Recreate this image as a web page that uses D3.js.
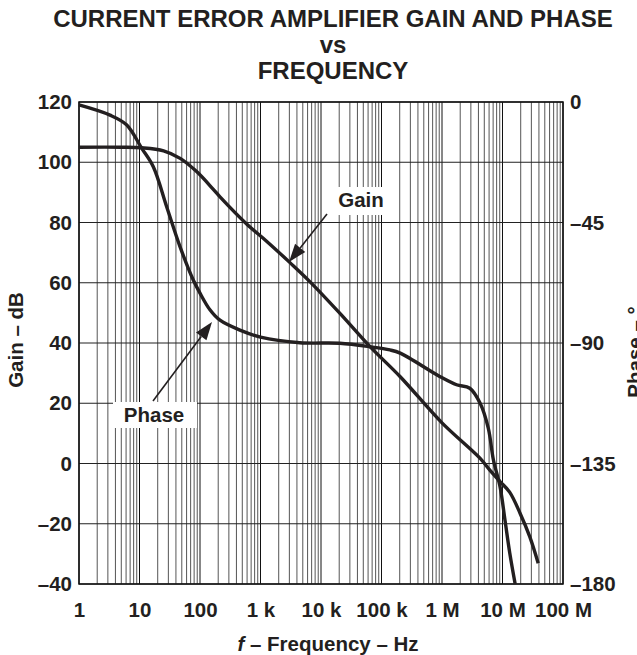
<!DOCTYPE html>
<html>
<head>
<meta charset="utf-8">
<script src="https://cdn.jsdelivr.net/npm/d3@7"></script>
<style>
  body { margin: 0; background: #fff; }
  text { font-family: "Liberation Sans", Arial, Helvetica, sans-serif; font-weight: bold; fill: #231f20; }
</style>
</head>
<body>
<div id="chart"></div>
<script>
// gain curve (Hz, dB)
var gainFreq = [1, 5, 10.9, 25, 47, 88, 166, 214, 590, 1260, 3100, 6600, 20400, 64600, 204000, 1e6, 4.27e6, 6.17e6, 9.12e6, 1.32e7, 1.95e7, 2.82e7, 3.89e7];
var gainDb   = [105, 105, 104.8, 103.8, 101.3, 96.9, 91, 88.5, 79.5, 73.8, 66.6, 60.3, 49.9, 38.8, 28.8, 13.5, 1.7, -2.2, -6.0, -9.6, -16.5, -24.3, -33.1];

// phase curve (Hz, degrees)
var phaseFreq = [1, 3.25, 6.1, 10.9, 16.9, 28.2, 46.7, 77.4, 100, 146, 214, 457, 1000, 4470, 20400, 64600, 138000, 204000, 933000, 1.74e6, 2.88e6, 4.27e6, 5.82e6, 7.08e6, 9.12e6, 1.10e7, 1.32e7, 1.62e7];
var phaseDeg  = [-1.1, -4.9, -8.5, -17.3, -24.2, -39.2, -54, -66.5, -71.4, -77.6, -81.5, -85.2, -87.8, -89.9, -90.1, -91.4, -92.6, -93.8, -102.6, -105.6, -106.9, -112.5, -121.8, -133.7, -143.7, -156.2, -168.5, -180];

// axes
var gainTicks = [-40, -20, 0, 20, 40, 60, 80, 100, 120];
var phaseTicks = [0, -45, -90, -135, -180];
var freqTicks = [1, 10, 100, 1e3, 1e4, 1e5, 1e6, 1e7, 1e8];
var freqLabels = ["1", "10", "100", "1 k", "10 k", "100 k", "1 M", "10 M", "100 M"];

var W = 637, H = 655;
var L = 79, R = 563, T = 102, B = 584;

var svg = d3.select("#chart").append("svg")
    .attr("width", W)
    .attr("height", H);

var x = d3.scaleLog().domain([1, 1e8]).range([L, R]);
var y = d3.scaleLinear().domain([-40, 120]).range([B, T]);
var yp = d3.scaleLinear().domain([-180, 0]).range([B, T]);

/* Title */
var title = ["CURRENT ERROR AMPLIFIER GAIN AND PHASE", "vs", "FREQUENCY"];
svg.selectAll(".title").data(title).enter().append("text")
    .attr("class", "title")
    .attr("x", 333)
    .attr("y", function(d, i){ return 27 + i * 26; })
    .attr("text-anchor", "middle")
    .style("font-size", "24px")
    .text(function(d){ return d; });

/* Grid */
var grid = svg.append("g");
var minor = [];
for (var e = 0; e < 8; e++) {
    for (var m = 2; m < 10; m++) minor.push(m * Math.pow(10, e));
}
grid.selectAll(".vminor").data(minor).enter().append("line")
    .attr("x1", function(d){ return x(d); })
    .attr("x2", function(d){ return x(d); })
    .attr("y1", T).attr("y2", B)
    .attr("stroke", "#555")
    .attr("stroke-width", 1);
grid.selectAll(".vmajor").data(freqTicks).enter().append("line")
    .attr("x1", function(d){ return x(d); })
    .attr("x2", function(d){ return x(d); })
    .attr("y1", T).attr("y2", B)
    .attr("stroke", "#111")
    .attr("stroke-width", 1);
grid.selectAll(".h").data(gainTicks).enter().append("line")
    .attr("x1", L).attr("x2", R)
    .attr("y1", function(d){ return y(d); })
    .attr("y2", function(d){ return y(d); })
    .attr("stroke", "#222")
    .attr("stroke-width", 1.2);
svg.append("rect")
    .attr("x", L).attr("y", T)
    .attr("width", R - L).attr("height", B - T)
    .attr("fill", "none")
    .attr("stroke", "#111")
    .attr("stroke-width", 1.5);

/* Label boxes hide the grid under the callouts */
svg.append("rect").attr("x", 333).attr("y", 187).attr("width", 53).attr("height", 28).attr("fill", "#fff");
svg.append("rect").attr("x", 113).attr("y", 402).attr("width", 84).attr("height", 26).attr("fill", "#fff");

/* Axes */
function styleAxis(g) {
    g.select(".domain").remove();
    g.selectAll(".tick line").remove();
    g.selectAll(".tick text")
        .style("font-size", "20.5px")
        .style("font-family", "'Liberation Sans', Arial, sans-serif")
        .style("font-weight", "bold")
        .attr("fill", "#231f20");
}
var fmtMinus = function(d){ return d < 0 ? "\u2013" + Math.abs(d) : "" + d; };

svg.append("g")
    .attr("transform", "translate(" + (L - 7) + ",0)")
    .call(d3.axisLeft(y).tickValues(gainTicks).tickSize(0).tickPadding(0).tickFormat(fmtMinus))
    .call(styleAxis);
svg.append("g")
    .attr("transform", "translate(" + (R + 7) + ",0)")
    .call(d3.axisRight(yp).tickValues(phaseTicks).tickSize(0).tickPadding(0).tickFormat(fmtMinus))
    .call(styleAxis);
svg.append("g")
    .attr("transform", "translate(0," + (B + 33) + ")")
    .call(d3.axisBottom(x).tickValues(freqTicks).tickSize(0).tickPadding(0)
        .tickFormat(function(d, i){ return freqLabels[i]; }))
    .call(styleAxis)
    .selectAll(".tick text").attr("dy", 0);

/* Axis titles */
var xt = svg.append("text")
    .attr("x", 328).attr("y", 651)
    .attr("text-anchor", "middle")
    .style("font-size", "20.5px");
xt.append("tspan").style("font-style", "italic").text("f");
xt.append("tspan").text(" \u2013 Frequency \u2013 Hz");

svg.append("text")
    .attr("transform", "translate(23,340) rotate(-90)")
    .attr("text-anchor", "middle")
    .style("font-size", "20.5px")
    .text("Gain \u2013 dB");
// sits at the right edge, partly outside the frame as in the original
svg.append("text")
    .attr("transform", "translate(642,352) rotate(-90)")
    .attr("text-anchor", "middle")
    .style("font-size", "20.5px")
    .text("Phase \u2013 \u00b0");

/* Curves */
var gainData = gainFreq.map(function(f, i){ return [f, gainDb[i]]; });
var phaseData = phaseFreq.map(function(f, i){ return [f, phaseDeg[i]]; });

svg.append("path")
    .datum(gainData)
    .attr("d", d3.line()
        .x(function(d){ return x(d[0]); })
        .y(function(d){ return y(d[1]); })
        .curve(d3.curveCatmullRom.alpha(0.5)))
    .attr("fill", "none")
    .attr("stroke", "#231f20")
    .attr("stroke-width", 3.4);
svg.append("path")
    .datum(phaseData)
    .attr("d", d3.line()
        .x(function(d){ return x(d[0]); })
        .y(function(d){ return yp(d[1]); })
        .curve(d3.curveCatmullRom.alpha(0.5)))
    .attr("fill", "none")
    .attr("stroke", "#231f20")
    .attr("stroke-width", 3.4);

/* Callouts */
function arrow(x1, y1, x2, y2) {
    var a = Math.atan2(y2 - y1, x2 - x1), len = 18, half = 6.5;
    var bx = x2 - len * Math.cos(a), by = y2 - len * Math.sin(a);
    svg.append("line")
        .attr("x1", x1).attr("y1", y1).attr("x2", bx).attr("y2", by)
        .attr("stroke", "#231f20").attr("stroke-width", 1.6);
    var pts = [[x2, y2],
        [bx + half * Math.sin(a), by - half * Math.cos(a)],
        [bx - half * Math.sin(a), by + half * Math.cos(a)]];
    svg.append("polygon")
        .attr("points", pts.map(function(p){ return p.join(","); }).join(" "))
        .attr("fill", "#231f20");
}
svg.append("text").attr("x", 361).attr("y", 207).attr("text-anchor", "middle")
    .style("font-size", "20.5px").text("Gain");
arrow(327, 214, 289, 262);
svg.append("text").attr("x", 154).attr("y", 422).attr("text-anchor", "middle")
    .style("font-size", "20.5px").text("Phase");
arrow(153, 401, 212, 322);
</script>
</body>
</html>
